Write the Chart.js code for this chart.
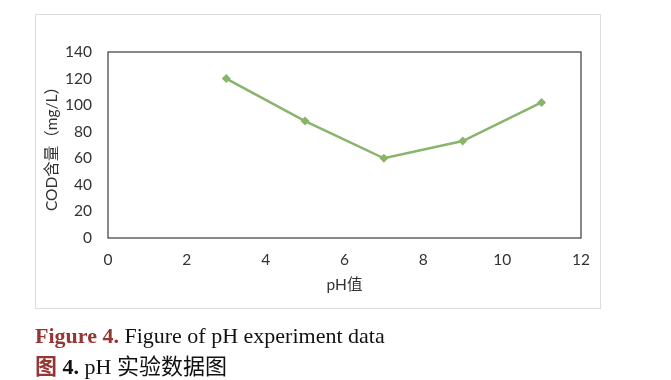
<!DOCTYPE html>
<html>
<head>
<meta charset="utf-8">
<script src="https://cdn.jsdelivr.net/npm/chart.js@4/dist/chart.umd.min.js"></script>
<style>
  html, body { margin: 0; padding: 0; background: #fff; width: 671px; height: 380px; overflow: hidden; }
  #frame { position: absolute; left: 35px; top: 14px; width: 566px; height: 295px; border: 1px solid #dcdcdc; box-sizing: border-box; }
  #c { position: absolute; left: 0; top: 0; }
  .cap { position: absolute; left: 35px; font-family: "Liberation Serif", "Noto Sans CJK SC", serif; font-size: 22px; color: #111; white-space: nowrap; line-height: 26px; }
  .red { color: #943634; font-weight: bold; }
  .cjk { font-family: "Noto Sans CJK SC", sans-serif; font-size: 22px; }
</style>
</head>
<body>
<div id="frame"></div>
<canvas id="c" width="671" height="380"></canvas>
<div class="cap" style="top:323px;"><span class="red">Figure 4.</span> Figure of pH experiment data</div>
<div class="cap" style="top:351px;"><span class="red cjk">图</span> <b>4.</b> pH <span class="cjk">实验数据图</span></div>
<script>
const phValues = [3, 5, 7, 9, 11];
const codValues = [120, 88, 60, 73, 102];
const xTicks = [0, 2, 4, 6, 8, 10, 12];
const yTicks = [0, 20, 40, 60, 80, 100, 120, 140];
const xTitle = 'pH值';
const yTitle = 'COD含量（mg/L）';

const lineColor = '#88B46C';
const tickFont = { family: "Lato, 'Noto Sans CJK SC', sans-serif", size: 15.5 };

const borderPlugin = {
  id: 'plotBorder',
  afterDatasetsDraw(chart) {
    const a = chart.chartArea, ctx = chart.ctx;
    ctx.save();
    ctx.strokeStyle = '#3a3a3a';
    ctx.lineWidth = 1.2;
    ctx.strokeRect(a.left, a.top, a.right - a.left, a.bottom - a.top);
    ctx.restore();
  }
};

new Chart(document.getElementById('c'), {
  type: 'scatter',
  data: {
    datasets: [{
      data: phValues.map((x, i) => ({ x: x, y: codValues[i] })),
      showLine: true,
      borderColor: lineColor,
      backgroundColor: lineColor,
      borderWidth: 2.5,
      pointStyle: 'rectRot',
      pointRadius: 4.5,
      pointBorderWidth: 0,
      tension: 0
    }]
  },
  options: {
    responsive: false,
    animation: false,
    devicePixelRatio: 1,
    layout: { padding: { left: 0, top: 52, right: 90, bottom: 82 } },
    plugins: { legend: { display: false }, tooltip: { enabled: false } },
    scales: {
      x: {
        type: 'linear', min: 0, max: 12,
        afterBuildTicks(s) { s.ticks = xTicks.map(v => ({ value: v })); },
        afterFit(s) { s.height = 60; },
        grid: { display: false, drawTicks: false },
        border: { display: false },
        ticks: { font: tickFont, color: '#333333', padding: 13, maxRotation: 0 },
        title: { display: true, text: xTitle, font: { family: "Lato, 'Noto Sans CJK SC', sans-serif", size: 15.5 }, color: '#333333', padding: { top: 0, bottom: 4 } }
      },
      y: {
        type: 'linear', min: 0, max: 140,
        afterBuildTicks(s) { s.ticks = yTicks.map(v => ({ value: v })); },
        afterFit(s) { s.width = 108; },
        grid: { display: false, drawTicks: false },
        border: { display: false },
        ticks: { font: tickFont, color: '#333333', padding: 16 },
        title: { display: true, text: yTitle, font: { family: "Lato, 'Noto Sans CJK SC', sans-serif", size: 15.5 }, color: '#333333', padding: { top: 43, bottom: 0 } }
      }
    }
  },
  plugins: [borderPlugin]
});
</script>
</body>
</html>
